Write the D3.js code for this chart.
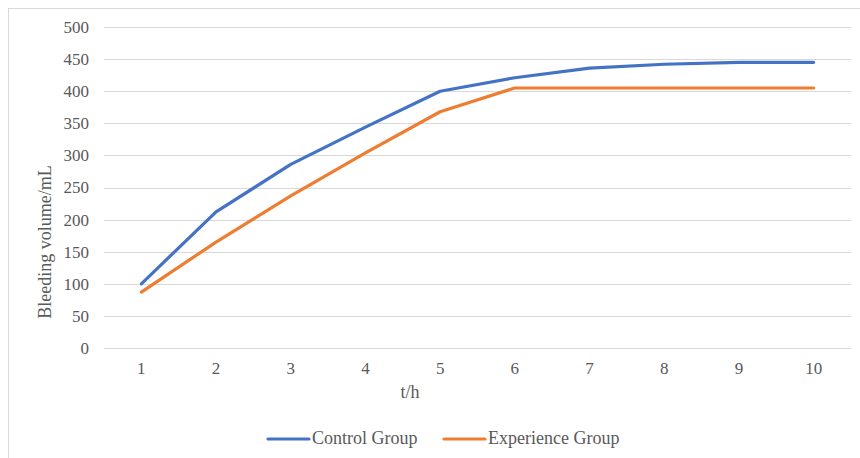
<!DOCTYPE html>
<html>
<head>
<meta charset="utf-8">
<script src="https://cdn.jsdelivr.net/npm/d3@7"></script>
<style>
  body { margin: 0; background: #fff; }
  svg text { fill: #595959; }
</style>
</head>
<body>
<div id="chart"></div>
<script>
// Chart data
const hours = [1, 2, 3, 4, 5, 6, 7, 8, 9, 10];
const controlGroup = [100, 212, 286, 344, 400, 421, 436, 442, 445, 445];
const experienceGroup = [87, 165, 237, 304, 368, 405, 405, 405, 405, 405];
const yTicks = [0, 50, 100, 150, 200, 250, 300, 350, 400, 450, 500];
const seriesNames = ["Control Group", "Experience Group"];

const FONT = "'Liberation Serif', 'Times New Roman', 'DejaVu Serif', serif";

const width = 860;
const height = 458;
const margin = { top: 27, right: 9, bottom: 110, left: 104 };
const innerW = width - margin.left - margin.right;
const innerH = height - margin.top - margin.bottom;

const svg = d3
  .select("#chart")
  .append("svg")
  .attr("width", width)
  .attr("height", height)
  .attr("font-family", FONT);

// outer chart frame
svg.append("rect")
  .attr("x", 8.5).attr("y", 8.5)
  .attr("width", width).attr("height", height)
  .attr("fill", "none")
  .attr("stroke", "#d9d9d9")
  .attr("stroke-width", 1);

const g = svg.append("g")
  .attr("transform", `translate(${margin.left}, ${margin.top})`);

const color = d3.scaleOrdinal().domain(seriesNames).range(["#4472c4", "#ed7d31"]);

const xScale = d3.scaleBand().domain(hours).range([0, innerW]).padding(0);
const yScale = d3.scaleLinear().domain([0, 500]).range([innerH, 0]);

// Gridlines
g.append("g")
  .selectAll("line")
  .data(yTicks)
  .join("line")
  .attr("x1", 0)
  .attr("x2", innerW)
  .attr("y1", (d) => Math.round(yScale(d)) + 0.5)
  .attr("y2", (d) => Math.round(yScale(d)) + 0.5)
  .attr("stroke", "#d9d9d9")
  .attr("stroke-width", 1.2);

// Y axis labels
const yAxis = g.append("g")
  .call(d3.axisLeft(yScale).tickValues(yTicks).tickSize(0).tickPadding(15))
  .attr("font-family", FONT)
  .attr("font-size", 17);
yAxis.select(".domain").remove();

// X axis labels
const xAxis = g.append("g")
  .attr("transform", `translate(0, ${innerH})`)
  .call(d3.axisBottom(xScale).tickSize(0).tickPadding(14))
  .attr("font-family", FONT)
  .attr("font-size", 17);
xAxis.select(".domain").remove();

// Lines
const line = d3.line()
  .x((d, i) => xScale(hours[i]) + xScale.bandwidth() / 2)
  .y((d) => yScale(d));

[controlGroup, experienceGroup].forEach((values, i) => {
  g.append("path")
    .datum(values)
    .attr("fill", "none")
    .attr("stroke", color(seriesNames[i]))
    .attr("stroke-width", 3.2)
    .attr("stroke-linejoin", "round")
    .attr("stroke-linecap", "round")
    .attr("d", line);
});

// Axis titles
svg.append("text")
  .attr("x", 410)
  .attr("y", 398)
  .attr("text-anchor", "middle")
  .attr("font-size", 18)
  .text("t/h");

svg.append("text")
  .attr("transform", `translate(51, 242) rotate(-90)`)
  .attr("text-anchor", "middle")
  .attr("font-size", 18)
  .text("Bleeding volume/mL");

// Legend
const legendItems = [
  { name: seriesNames[0], x: 268 },
  { name: seriesNames[1], x: 444 },
];
const legend = svg.append("g");
legendItems.forEach((item) => {
  legend.append("line")
    .attr("x1", item.x).attr("x2", item.x + 41)
    .attr("y1", 439).attr("y2", 439)
    .attr("stroke", color(item.name))
    .attr("stroke-width", 3.2)
    .attr("stroke-linecap", "round");
  legend.append("text")
    .attr("x", item.x + 44)
    .attr("y", 444)
    .attr("font-size", 18)
    .text(item.name);
});
</script>
</body>
</html>
